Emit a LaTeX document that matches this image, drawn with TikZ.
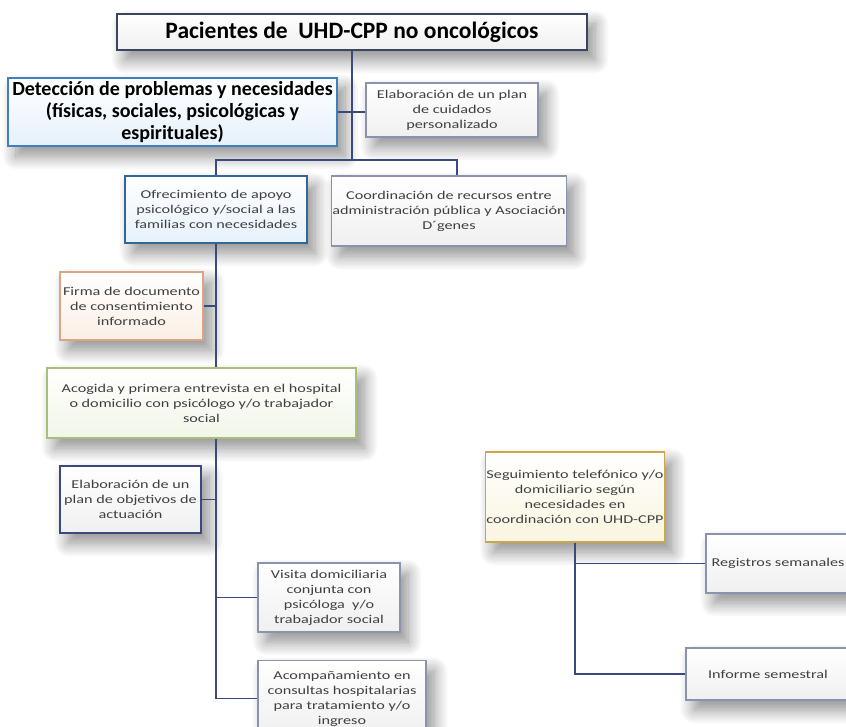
\documentclass[tikz,border=0pt]{standalone}
\usepackage{fontspec}
\setmainfont{Carlito}
\newfontfamily\widef{Carlito}[FakeStretch=1.35]
\usetikzlibrary{shadows.blur,calc}
\definecolor{lnk}{HTML}{3B4A7E}
\definecolor{bxgray}{HTML}{8A93AE}
\definecolor{ttl}{HTML}{3A4560}
\definecolor{detb}{HTML}{3F7FC0}
\definecolor{detf}{HTML}{E6F1FB}
\definecolor{firb}{HTML}{D9A585}
\definecolor{firf}{HTML}{FBEFE6}
\definecolor{acob}{HTML}{A6BF7A}
\definecolor{acof}{HTML}{F1F6E8}
\definecolor{segb}{HTML}{C9A84A}
\definecolor{segf}{HTML}{FAF5DF}
\definecolor{txt}{HTML}{404040}
\tikzset{
  x=1pt,y=-1pt,
  box/.style={draw=bxgray,line width=1.2pt,top color=white,bottom color=gray!12,
    align=center,inner sep=1pt,text=txt,font=\widef\fontsize{12}{15}\selectfont,
    blur shadow={shadow xshift=8pt,shadow yshift=-10pt,shadow blur radius=14pt,shadow blur steps=12,shadow opacity=45}},
  link/.style={draw=lnk,line width=1.3pt},
}
\begin{document}
\begin{tikzpicture}
\useasboundingbox (0,0) rectangle (846,727);
% nodes
\node[box,draw=ttl,line width=2pt,minimum width=470,minimum height=36,text=black,
  font=\bfseries\fontsize{23.5}{26}\selectfont] (title) at (352,32) {Pacientes de\ \ UHD-CPP no oncológicos};
\node[box,draw=detb,line width=2.2pt,top color=white,bottom color=detf,minimum width=329,minimum height=68,text=black,inner sep=0pt,
  font=\bfseries\fontsize{20}{22}\selectfont] (det) at (172.5,112) {Detección de problemas y necesidades\\(físicas, sociales, psicológicas y\\espirituales)};
\node[box,minimum width=172,minimum height=54] (elab) at (452,110) {Elaboración de un plan\\de cuidados\\personalizado};
\node[box,draw=detb!80!black,line width=1.5pt,bottom color=detf,minimum width=182,minimum height=67] (ofr) at (216,209.5) {Ofrecimiento de apoyo\\psicológico y/social a las\\familias con necesidades};
\node[box,minimum width=222,minimum height=70] (coord) at (449,211) {Coordinación de recursos entre\\administración pública y Asociación\\D´genes};
\node[box,draw=firb,bottom color=firf,minimum width=143,minimum height=68] (firma) at (131.5,306) {Firma de documento\\de consentimiento\\informado};
\node[box,draw=acob,bottom color=acof,minimum width=309,minimum height=70] (acog) at (201.5,403) {Acogida y primera entrevista en el hospital\\o domicilio con psicólogo y/o trabajador\\social};
\node[box,draw=lnk,line width=1.5pt,minimum width=141,minimum height=67] (obj) at (130.5,499.5) {Elaboración de un\\plan de objetivos de\\actuación};
\node[box,minimum width=142,minimum height=69] (visita) at (329,597.5) {Visita domiciliaria\\conjunta con\\psicóloga\ \ y/o\\trabajador social};
\node[box,minimum width=168,minimum height=76,anchor=north] (acomp) at (342,660) {Acompañamiento en\\consultas hospitalarias\\para tratamiento y/o\\ingreso};
\node[box,draw=segb,line width=1.5pt,bottom color=segf,minimum width=178,minimum height=90] (seg) at (575,497) {Seguimiento telefónico y/o\\domiciliario según\\necesidades en\\coordinación con UHD-CPP};
\node[box,minimum width=144,minimum height=59] (reg) at (778,563.5) {Registros semanales};
\node[box,minimum width=164,minimum height=52] (inf) at (768,674) {Informe semestral};
% connectors
\coordinate (t1) at (352,160);
\draw[link] (title.south) -- (t1);
\draw[link] (t1) -| (ofr.north);
\draw[link] (t1) -| ([xshift=8pt]coord.north);
\draw[link] (det.east) -- (det.east -| elab.west);
\draw[link] (ofr.south) -- (firma.east -| ofr.south);
\draw[link] (firma.east) -- (firma.east -| ofr.south);
\draw[link] (firma.east -| ofr.south) -- (acog.north -| ofr.south);
\draw[link] (acog.south -| ofr.south) |- (acomp.west);
\draw[link] (obj.east) -- (obj.east -| ofr.south);
\draw[link] (visita.west) -- (visita.west -| ofr.south);
\draw[link] (seg.south) |- (inf.west);
\draw[link] (seg.south |- reg.west) -- (reg.west);
\end{tikzpicture}
\end{document}
